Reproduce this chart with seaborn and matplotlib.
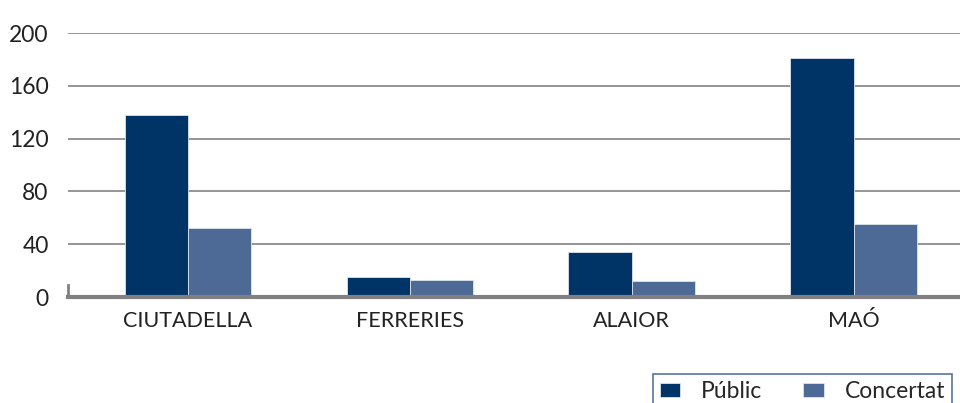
import pandas as pd
import numpy as np
import matplotlib
matplotlib.use('Agg')
import matplotlib.pyplot as plt
import seaborn as sns

municipis = ['CIUTADELLA', 'FERRERIES', 'ALAIOR', 'MAÓ']
public = [138, 15, 34, 181]
concertat = [52, 13, 12, 55]
yticks = [0, 40, 80, 120, 160, 200]

df = pd.DataFrame({
    'Municipi': municipis * 2,
    'Tipus': ['Públic'] * 4 + ['Concertat'] * 4,
    'Valor': public + concertat,
})

sns.set_style('white')
plt.rcParams['font.family'] = ['Lato', 'DejaVu Sans']

fig = plt.figure(figsize=(9.6, 4.03), dpi=100)
ax = fig.add_axes([0.071, 0.263, 0.929, 0.655])

sns.barplot(data=df, x='Municipi', y='Valor', hue='Tipus',
            palette=['#003366', '#4d6a96'], saturation=1, width=0.57,
            edgecolor='#dde3ec', linewidth=0.6, ax=ax, zorder=3)

ax.set_ylim(0, 200)
ax.set_xlim(-0.54, 3.48)
ax.set_yticks(yticks)
ax.set_yticklabels([str(v) for v in yticks], fontsize=16.5, color='#222222')
ax.tick_params(axis='y', length=0, pad=14)
ax.tick_params(axis='x', length=0, pad=10, labelsize=15.5, labelcolor='#222222')
ax.set_xlabel('')
ax.set_ylabel('')

for v in yticks[1:]:
    ax.axhline(v, color='#8c8c8c', linewidth=1.3, zorder=1)

for s in ['top', 'right']:
    ax.spines[s].set_visible(False)
ax.spines['bottom'].set_color('#808080')
ax.spines['bottom'].set_linewidth(3)
ax.spines['bottom'].set_zorder(4)
ax.spines['left'].set_color('#808080')
ax.spines['left'].set_linewidth(2)
ax.spines['left'].set_bounds(0, 9)

ax.get_legend().remove()
handles, labels = ax.get_legend_handles_labels()
leg = fig.legend(handles, labels, loc='upper left', bbox_to_anchor=(0.668, 0.1),
                 ncol=2, fontsize=16.5, frameon=True, fancybox=False,
                 handlelength=0.9, handleheight=0.6, columnspacing=1.8,
                 borderpad=0.3, handletextpad=0.9)
leg.get_frame().set_edgecolor('#2e5283')
leg.get_frame().set_linewidth(1.2)

fig.savefig('out.png', dpi=100)
